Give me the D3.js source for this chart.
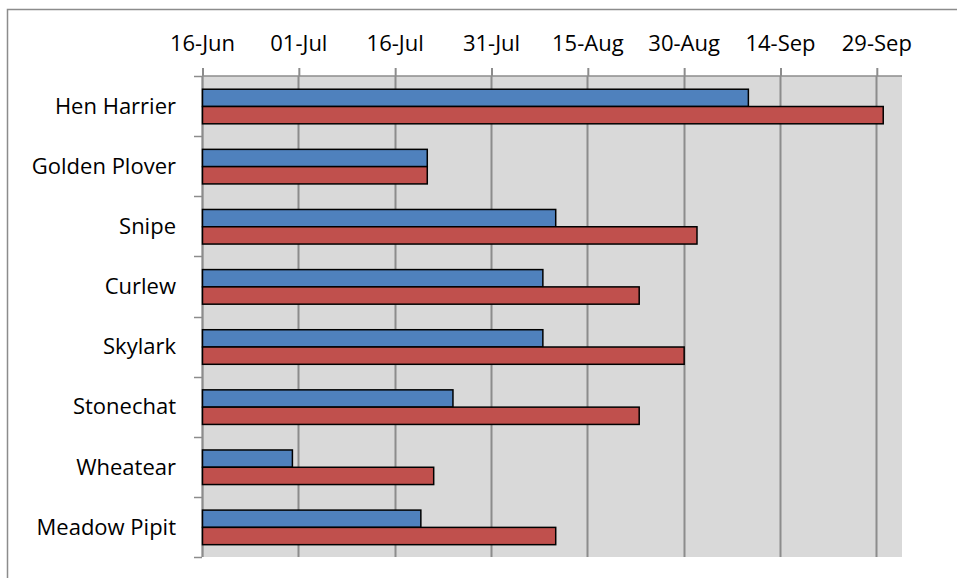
<!DOCTYPE html>
<html>
<head>
<meta charset="utf-8">
<script src="https://cdn.jsdelivr.net/npm/d3@7"></script>
<style>
  html, body { margin: 0; padding: 0; background: #fff; }
  svg { display: block; }
</style>
</head>
<body>
<div id="chart"></div>
<script>
// chart size
const width = 957;
const height = 578;
const fontFamily = "'Open Sans', 'Liberation Sans', sans-serif";

// species, top to bottom
const species = ["Hen Harrier", "Golden Plover", "Snipe", "Curlew",
                 "Skylark", "Stonechat", "Wheatear", "Meadow Pipit"];

// end dates of the blue series (first bar of each pair)
const blueDates = ["2014-09-09", "2014-07-21", "2014-08-10", "2014-08-08",
                   "2014-08-08", "2014-07-25", "2014-06-30", "2014-07-20"];

// end dates of the red series (second bar of each pair)
const redDates = ["2014-09-30", "2014-07-21", "2014-09-01", "2014-08-23",
                  "2014-08-30", "2014-08-23", "2014-07-22", "2014-08-10"];

// axis ticks, every 15 days
const tickDates = ["2014-06-16", "2014-07-01", "2014-07-16", "2014-07-31",
                   "2014-08-15", "2014-08-30", "2014-09-14", "2014-09-29"];

// axis range
const axisStart = "2014-06-16";
const axisEnd = "2014-10-03";

const parse = d3.timeParse("%Y-%m-%d");
const fmt = d3.timeFormat("%d-%b");

// one row per species
const rows = species.map((name, i) => ({
    name: name,
    blue: parse(blueDates[i]),
    red: parse(redDates[i])
}));

const plot = { left: 202, right: 902, top: 76, bottom: 557 };

const svg = d3.select("#chart").append("svg")
    .attr("width", width)
    .attr("height", height);

// outer chart frame (only top and left are inside the picture)
svg.append("rect")
    .attr("x", 7.5).attr("y", 9.5)
    .attr("width", width + 20).attr("height", height + 20)
    .attr("fill", "#fff")
    .attr("stroke", "#8c8c8c")
    .attr("stroke-width", 1.5);

const x = d3.scaleTime()
    .domain([parse(axisStart), parse(axisEnd)])
    .range([plot.left, plot.right]);

const y = d3.scaleBand()
    .domain(species)
    .range([plot.top, plot.bottom]);

// the two bars inside each category
const ySub = d3.scaleBand()
    .domain(["blue", "red"])
    .range([y.bandwidth() * 0.22, y.bandwidth() * 0.795]);

// plot background
svg.append("rect")
    .attr("x", plot.left).attr("y", plot.top)
    .attr("width", plot.right - plot.left)
    .attr("height", plot.bottom - plot.top)
    .attr("fill", "#d9d9d9");

// vertical gridlines
svg.append("g")
    .selectAll("line")
    .data(tickDates.map(parse))
    .join("line")
    .attr("x1", d => Math.round(x(d)) + 0.5)
    .attr("x2", d => Math.round(x(d)) + 0.5)
    .attr("y1", plot.top)
    .attr("y2", plot.bottom)
    .attr("stroke", "#8c8c8c")
    .attr("stroke-width", 2);

// top date axis
const xAxis = d3.axisTop(x)
    .tickValues(tickDates.map(parse))
    .tickFormat(fmt)
    .tickSize(8)
    .tickPadding(17);

const gx = svg.append("g")
    .attr("transform", `translate(0,${plot.top})`)
    .call(xAxis);
gx.select(".domain").attr("stroke", "#8c8c8c").attr("stroke-width", 1.5)
    .attr("d", `M${plot.left},0H${plot.right}`);
gx.selectAll(".tick line")
    .attr("stroke", "#8c8c8c").attr("stroke-width", 2)
    .attr("transform", "translate(0.5,0)");
gx.selectAll(".tick text")
    .attr("fill", "#000")
    .attr("font-family", fontFamily)
    .attr("font-size", "22px");

// left category axis, ticks at category boundaries
const gy = svg.append("g");
gy.append("line")
    .attr("x1", plot.left + 0.5).attr("x2", plot.left + 0.5)
    .attr("y1", plot.top).attr("y2", plot.bottom)
    .attr("stroke", "#8c8c8c").attr("stroke-width", 1.5);
const bounds = species.map(s => y(s)).concat([plot.bottom]);
gy.selectAll("line.tk")
    .data(bounds)
    .join("line")
    .attr("class", "tk")
    .attr("x1", plot.left - 8).attr("x2", plot.left)
    .attr("y1", d => Math.round(d) + 0.5)
    .attr("y2", d => Math.round(d) + 0.5)
    .attr("stroke", "#8c8c8c").attr("stroke-width", 1.5);
gy.selectAll("text")
    .data(species)
    .join("text")
    .attr("x", plot.left - 26)
    .attr("y", d => y(d) + y.bandwidth() / 2)
    .attr("dy", "0.35em")
    .attr("text-anchor", "end")
    .attr("font-family", fontFamily)
    .attr("font-size", "22px")
    .attr("fill", "#000")
    .text(d => d);

// bars
const colors = { blue: "#4f81bd", red: "#c0504d" };
const groups = svg.append("g")
    .selectAll("g")
    .data(rows)
    .join("g")
    .attr("transform", d => `translate(0,${y(d.name)})`);

groups.selectAll("rect")
    .data(d => ["blue", "red"].map(k => ({ key: k, date: d[k] })))
    .join("rect")
    .attr("x", plot.left + 0.5)
    .attr("y", d => ySub(d.key))
    .attr("width", d => x(d.date) - plot.left)
    .attr("height", ySub.bandwidth())
    .attr("fill", d => colors[d.key])
    .attr("stroke", "#000")
    .attr("stroke-width", 1.5);
</script>
</body>
</html>
